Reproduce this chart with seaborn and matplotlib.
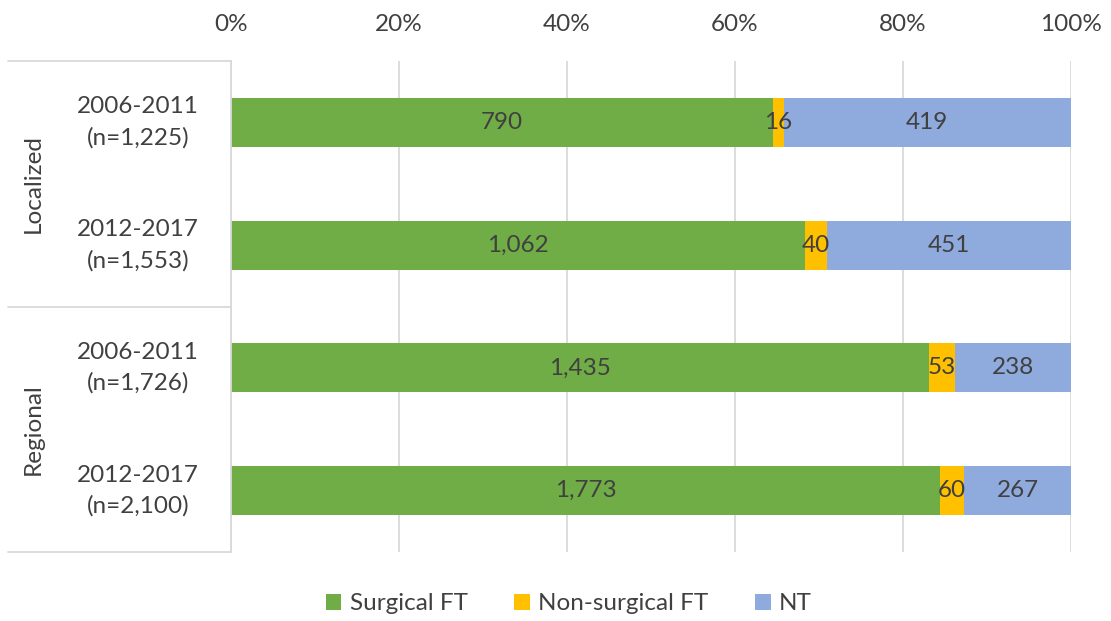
import matplotlib
matplotlib.use("Agg")
import matplotlib.pyplot as plt
import seaborn as sns
import pandas as pd
import numpy as np
from matplotlib.patches import Patch
from matplotlib.lines import Line2D

periods = ["2006-2011\n(n=1,225)", "2012-2017\n(n=1,553)", "2006-2011\n(n=1,726)", "2012-2017\n(n=2,100)"]
groups = ["Localized", "Regional"]
series = ["Surgical FT", "Non-surgical FT", "NT"]
surgical = [790, 1062, 1435, 1773]
nonsurgical = [16, 40, 53, 60]
nt = [419, 451, 238, 267]
colors = ["#70AD47", "#FFC000", "#8FAADC"]
xticks = [0, 20, 40, 60, 80, 100]

sns.set_theme(style="white")
plt.rcParams["font.family"] = ["Lato", "DejaVu Sans"]
text_color = "#404040"
fs = 17.5

vals = np.array([surgical, nonsurgical, nt], dtype=float)
tot = vals.sum(axis=0)
pct = vals / tot * 100
cum = np.cumsum(pct, axis=0)

df = pd.DataFrame({"row": periods})
for i, s in enumerate(series):
    df[s] = cum[i]

fig = plt.figure(figsize=(11.11, 6.21), dpi=100)
ax = fig.add_axes([231/1111, 1-552/621, 840/1111, 491/621])

for i in [2, 1, 0]:
    sns.barplot(data=df, y="row", x=series[i], color=colors[i], orient="h",
                width=0.4, ax=ax, saturation=1, edgecolor="none", linewidth=0)

# labels
for j in range(len(periods)):
    start = 0
    for i in range(3):
        mid = start + pct[i, j] / 2
        ax.text(mid, j, f"{int(vals[i, j]):,}", ha="center", va="center",
                fontsize=fs, color=text_color)
        start += pct[i, j]

ax.set_xlim(0, 100)
ax.set_ylim(3.5, -0.5)
ax.set_xticks(xticks)
ax.set_xticklabels([f"{t}%" for t in xticks], fontsize=fs, color=text_color)
ax.xaxis.tick_top()
ax.tick_params(axis="x", length=0, pad=19)
ax.set_xlabel("")
ax.set_ylabel("")
ax.set_yticks([])
ax.grid(axis="x", color="#D9D9D9", linewidth=1.3)
ax.set_axisbelow(True)
for s in ["top", "right", "bottom"]:
    ax.spines[s].set_visible(False)
ax.spines["left"].set_color("#D9D9D9")
ax.spines["left"].set_linewidth(1.3)

# category labels
trans = ax.get_yaxis_transform()
for j, p in enumerate(periods):
    ax.text(-93/840, j, p, ha="center", va="center", fontsize=fs,
            color=text_color, transform=trans, linespacing=1.55)

# group labels and separators
for k, g in enumerate(groups):
    ax.text(-198/840, 2*k + 0.5, g, ha="center", va="center", rotation=90,
            fontsize=fs, color=text_color, transform=trans)
for yv in [-0.5, 1.5, 3.5]:
    ax.add_line(Line2D([-223/840, 0], [yv, yv], transform=trans, color="#D9D9D9",
                       linewidth=1.3, clip_on=False))

handles = [Patch(facecolor=c, edgecolor="none") for c in colors]
leg = fig.legend(handles, series, loc="center", bbox_to_anchor=(0.512, 1-604/621),
                 ncol=3, frameon=False, fontsize=fs, handlelength=0.65,
                 handleheight=0.65, handletextpad=0.35, columnspacing=1.9)
for t in leg.get_texts():
    t.set_color(text_color)

fig.savefig("out.png", dpi=100)
